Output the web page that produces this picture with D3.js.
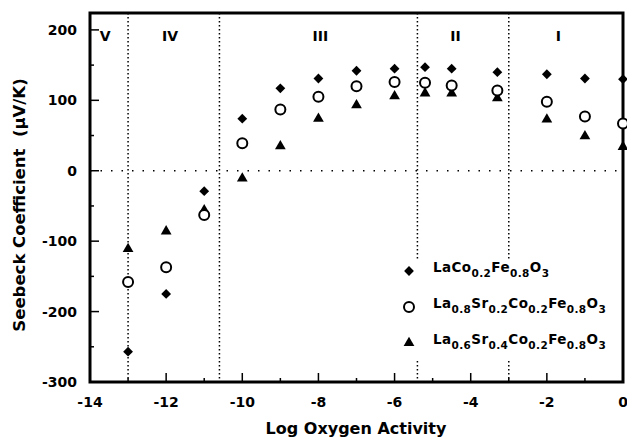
<!DOCTYPE html>
<html>
<head>
<meta charset="utf-8">
<script src="https://cdn.jsdelivr.net/npm/d3@7"></script>
<style>
  body { margin: 0; background: #fff; }
  text { font-family: "DejaVu Sans", sans-serif; font-weight: bold; fill: #000; }
</style>
</head>
<body>
<svg id="chart"></svg>
<script>
// log oxygen activity
var logA = [-13, -12, -11, -10, -9, -8, -7, -6, -5.2, -4.5, -3.3, -2, -1, 0];
// seebeck coefficient (uV/K)
var lacofe = [-257, -175, -29, 74, 117, 131, 142, 145, 147, 145, 140, 137, 131, 130];
var lsr2 = [-158, -137, -63, 39, 87, 105, 120, 126, 125, 121, 114, 98, 77, 67];
var lsr4 = [-111, -86, -56, -11, 35, 74, 93, 106, 110, 110, 103, 73, 49, 34];

var dividers = [-13, -10.6, -5.4, -3.0];
var regionNames = ["V", "IV", "III", "II", "I"];
var regionCenters = [-13.6, -11.9, -7.95, -4.4, -1.7];

var xTicks = [-14, -12, -10, -8, -6, -4, -2, 0];
var yTicks = [-300, -200, -100, 0, 100, 200];

var margin = { top: 13, right: 4, bottom: 60, left: 90 },
    width = 627 - margin.left - margin.right,
    height = 442 - margin.top - margin.bottom;

var svg = d3.select("#chart")
    .attr("width", 627)
    .attr("height", 442);

var g = svg.append("g")
    .attr("transform", "translate(" + margin.left + "," + margin.top + ")");

var x = d3.scaleLinear().domain([-14, 0]).range([0, 533]);
var y = d3.scaleLinear().domain([-300, 224]).range([369, 0]);

// zero line
g.append("line")
    .attr("x1", 0).attr("x2", x(0))
    .attr("y1", y(0)).attr("y2", y(0))
    .attr("stroke", "#000")
    .attr("stroke-width", 1.4)
    .attr("stroke-dasharray", "1.5,9");

// region dividers
g.selectAll(".divider")
    .data(dividers)
    .enter().append("line")
    .attr("class", "divider")
    .attr("x1", function (d) { return x(d); })
    .attr("x2", function (d) { return x(d); })
    .attr("y1", 0).attr("y2", y(-300))
    .attr("stroke", "#000")
    .attr("stroke-width", 1.5)
    .attr("stroke-dasharray", "1.5,2.5");

g.selectAll(".region")
    .data(regionNames)
    .enter().append("text")
    .attr("class", "region")
    .attr("x", function (d, i) { return x(regionCenters[i]); })
    .attr("y", 28)
    .attr("text-anchor", "middle")
    .style("font-size", "14px")
    .text(function (d) { return d; });

// axes with inward ticks
var xMinor = d3.range(-13, 0, 2);
var yMinor = d3.range(-250, 224, 100);

g.selectAll(".xt")
    .data(xTicks.concat(xMinor))
    .enter().append("line")
    .attr("x1", function (d) { return x(d); })
    .attr("x2", function (d) { return x(d); })
    .attr("y1", y(-300))
    .attr("y2", function (d) { return y(-300) - (d % 2 === 0 ? 9 : 4); })
    .attr("stroke", "#000").attr("stroke-width", 1.5);

g.selectAll(".yt")
    .data(yTicks.concat(yMinor))
    .enter().append("line")
    .attr("x1", 0)
    .attr("x2", function (d) { return d % 100 === 0 ? 9 : 4; })
    .attr("y1", function (d) { return y(d); })
    .attr("y2", function (d) { return y(d); })
    .attr("stroke", "#000").attr("stroke-width", 1.5);

g.selectAll(".xl")
    .data(xTicks)
    .enter().append("text")
    .attr("x", function (d) { return x(d); })
    .attr("y", y(-300) + 25)
    .attr("text-anchor", "middle")
    .style("font-size", "14px")
    .text(function (d) { return d; });

g.selectAll(".yl")
    .data(yTicks)
    .enter().append("text")
    .attr("x", -13)
    .attr("y", function (d) { return y(d) + 5; })
    .attr("text-anchor", "end")
    .style("font-size", "14px")
    .text(function (d) { return d; });

// frame
g.append("rect")
    .attr("x", 0).attr("y", 0)
    .attr("width", x(0)).attr("height", y(-300))
    .attr("fill", "none")
    .attr("stroke", "#000")
    .attr("stroke-width", 3);

svg.append("text")
    .attr("x", 356)
    .attr("y", 434)
    .attr("text-anchor", "middle")
    .style("font-size", "16px")
    .text("Log Oxygen Activity");

svg.append("text")
    .attr("transform", "translate(25,205) rotate(-90)")
    .attr("text-anchor", "middle")
    .style("font-size", "16.5px")
    .attr("xml:space", "preserve")
    .text("Seebeck Coefficient  (\u03bcV/K)");

// markers
var diamond = d3.symbol().type(d3.symbolSquare).size(48);
var tri = d3.symbol().type(d3.symbolTriangle).size(50);

function drawSeries(vals, kind) {
    var sel = g.selectAll(".p" + kind)
        .data(vals)
        .enter();
    if (kind === "circle") {
        sel.append("circle")
            .attr("cx", function (d, i) { return x(logA[i]); })
            .attr("cy", function (d) { return y(d); })
            .attr("r", 5)
            .attr("fill", "#fff")
            .attr("stroke", "#000")
            .attr("stroke-width", 2);
    } else if (kind === "diamond") {
        sel.append("path")
            .attr("d", diamond)
            .attr("transform", function (d, i) { return "translate(" + x(logA[i]) + "," + y(d) + ") rotate(45)"; })
            .attr("fill", "#000");
    } else {
        sel.append("path")
            .attr("d", tri)
            .attr("transform", function (d, i) { return "translate(" + x(logA[i]) + "," + y(d) + ")"; })
            .attr("fill", "#000");
    }
}
drawSeries(lsr4, "triangle");
drawSeries(lsr2, "circle");
drawSeries(lacofe, "diamond");

// legend
var legendNames = [
    [["LaCo", ""], ["0.2", "s"], ["Fe", ""], ["0.8", "s"], ["O", ""], ["3", "s"]],
    [["La", ""], ["0.8", "s"], ["Sr", ""], ["0.2", "s"], ["Co", ""], ["0.2", "s"], ["Fe", ""], ["0.8", "s"], ["O", ""], ["3", "s"]],
    [["La", ""], ["0.6", "s"], ["Sr", ""], ["0.4", "s"], ["Co", ""], ["0.2", "s"], ["Fe", ""], ["0.8", "s"], ["O", ""], ["3", "s"]]
];
var legendKinds = ["diamond", "circle", "triangle"];

g.append("rect")
    .attr("x", 312).attr("y", 246)
    .attr("width", 205).attr("height", 102)
    .attr("fill", "#fff");

var leg = g.selectAll(".leg")
    .data(legendNames)
    .enter().append("g")
    .attr("transform", function (d, i) { return "translate(319," + (258 + i * 36) + ")"; });

leg.each(function (d, i) {
    var el = d3.select(this);
    if (legendKinds[i] === "circle") {
        el.append("circle").attr("r", 5).attr("fill", "#fff")
            .attr("stroke", "#000").attr("stroke-width", 2);
    } else if (legendKinds[i] === "diamond") {
        el.append("path").attr("d", diamond).attr("transform", "rotate(45)").attr("fill", "#000");
    } else {
        el.append("path").attr("d", tri).attr("fill", "#000");
    }
    var t = el.append("text")
        .attr("x", 24)
        .attr("y", 1)
        .style("font-size", "13.5px")
        .style("letter-spacing", "0.4px");
    var down = false;
    d.forEach(function (p) {
        var sub = p[1] === "s";
        var dy = 0;
        if (sub && !down) { dy = 5; down = true; }
        else if (!sub && down) { dy = -5; down = false; }
        t.append("tspan")
            .attr("dy", dy)
            .style("font-size", sub ? "10.5px" : "13.5px")
            .text(p[0]);
    });
});
</script>
</body>
</html>
